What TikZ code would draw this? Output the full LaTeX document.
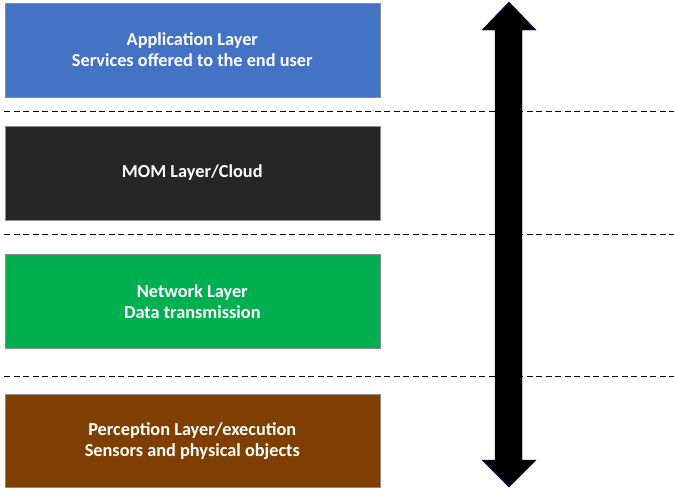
\documentclass[tikz,border=0pt]{standalone}
\usepackage{fontspec}
\setmainfont{Carlito}
\definecolor{appblue}{HTML}{4472C4}
\definecolor{momdark}{HTML}{262626}
\definecolor{netgreen}{HTML}{00B050}
\definecolor{percbrown}{HTML}{7F3F00}
\begin{document}
\begin{tikzpicture}[x=1pt,y=-1pt,
  layer/.style={draw=black!45, line width=0.6pt, minimum width=375pt, minimum height=94pt,
    anchor=north west, inner sep=0pt, align=center, text=white,
    font=\fontsize{18.3}{21}\selectfont\bfseries},
  sep/.style={dashed, dash pattern=on 6pt off 3.5pt, line width=0.9pt, black}]
\useasboundingbox (0,0) rectangle (674,488);
% layers
\node[layer, fill=appblue] (app) at (4.5,2.5) {Application Layer\\Services offered to the end user};
\node[layer, fill=momdark] (mom) at (4.5,125.5) {MOM Layer/Cloud};
\node[layer, fill=netgreen] (net) at (4.5,254) {Network Layer\\Data transmission};
\node[layer, fill=percbrown, minimum height=93pt] (perc) at (4.5,394) {Perception Layer/execution\\Sensors and physical objects};
% separators
\coordinate (s1a) at (4,111); \coordinate (s1b) at (674,111);
\coordinate (s2a) at (4,234); \coordinate (s2b) at (674,234);
\coordinate (s3a) at (4,376); \coordinate (s3b) at (674,376);
\draw[sep] (s1a) -- (s1b);
\draw[sep] (s2a) -- (s2b);
\draw[sep] (s3a) -- (s3b);
% double-headed vertical arrow
\fill[black, draw=blue!40!black, line width=0.4pt]
  (509,2) -- (536,30) -- (522,30) -- (522,460) -- (536,460) -- (509,487)
  -- (482,460) -- (495,460) -- (495,30) -- (482,30) -- cycle;
\end{tikzpicture}
\end{document}
